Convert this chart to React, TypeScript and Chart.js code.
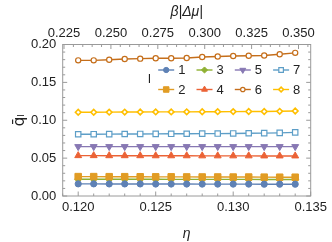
import React, { useEffect, useRef } from 'react';
import { Chart, registerables } from 'chart.js';
import { drawPoint } from 'chart.js/helpers';

Chart.register(...registerables);

const etaValues = [0.120, 0.121, 0.122, 0.123, 0.124, 0.125, 0.126, 0.127, 0.128, 0.129, 0.130, 0.131, 0.132, 0.133, 0.134];

const series1 = [0.0160, 0.0160, 0.0159, 0.0159, 0.0159, 0.0158, 0.0158, 0.0158, 0.0157, 0.0157, 0.0157, 0.0157, 0.0156, 0.0156, 0.0156];
const series2 = [0.0256, 0.0256, 0.0255, 0.0255, 0.0254, 0.0253, 0.0253, 0.0252, 0.0251, 0.0251, 0.0250, 0.0250, 0.0249, 0.0248, 0.0248];
const series3 = [0.0222, 0.0222, 0.0222, 0.0221, 0.0221, 0.0221, 0.0220, 0.0220, 0.0220, 0.0219, 0.0219, 0.0219, 0.0218, 0.0218, 0.0218];
const series4 = [0.0533, 0.0533, 0.0532, 0.0532, 0.0532, 0.0531, 0.0531, 0.0531, 0.0530, 0.0530, 0.0530, 0.0530, 0.0529, 0.0529, 0.0529];
const series5 = [0.0652, 0.0652, 0.0652, 0.0652, 0.0652, 0.0652, 0.0652, 0.0652, 0.0652, 0.0652, 0.0652, 0.0652, 0.0652, 0.0652, 0.0652];
const series6 = [0.1791, 0.1791, 0.1799, 0.1809, 0.1813, 0.1818, 0.1819, 0.1822, 0.1835, 0.1842, 0.1848, 0.1851, 0.1855, 0.1872, 0.1890];
const series7 = [0.0815, 0.0816, 0.0817, 0.0818, 0.0819, 0.0820, 0.0821, 0.0822, 0.0823, 0.0824, 0.0826, 0.0828, 0.0830, 0.0833, 0.0840];
const series8 = [0.1105, 0.1106, 0.1107, 0.1108, 0.1109, 0.1110, 0.1110, 0.1111, 0.1112, 0.1113, 0.1114, 0.1115, 0.1116, 0.1118, 0.1122];

const seriesLabels = ['1', '2', '3', '4', '5', '6', '7', '8'];
const seriesColors = ['#5E81B5', '#E19C24', '#8FB032', '#EB6235', '#8778B3', '#C56E1A', '#5D9EC7', '#FFBF00'];

const xTicks = [0.120, 0.125, 0.130, 0.135];
const x2Ticks = [0.225, 0.250, 0.275, 0.300, 0.325, 0.350];
const yTicks = [0.00, 0.05, 0.10, 0.15, 0.20];

const legendTitle = 'l';
const xTitle = 'η';
const x2Title = 'β|Δμ|';
const yTitle = 'q̄ₗ';

const allSeries = [series1, series2, series3, series4, series5, series6, series7, series8];

const markerStyles = [
  { pointStyle: 'circle', rotation: 0, radius: 3.1, open: false, bw: 1 },
  { pointStyle: 'rect', rotation: 0, radius: 4.6, open: false, bw: 1 },
  { pointStyle: 'rectRot', rotation: 0, radius: 3.6, open: false, bw: 1 },
  { pointStyle: 'triangle', rotation: 0, radius: 4, open: false, bw: 1 },
  { pointStyle: 'triangle', rotation: 180, radius: 4, open: false, bw: 1 },
  { pointStyle: 'circle', rotation: 0, radius: 2.6, open: true, bw: 1.2 },
  { pointStyle: 'rect', rotation: 0, radius: 3.8, open: true, bw: 1.2 },
  { pointStyle: 'rectRot', rotation: 0, radius: 2.8, open: true, bw: 1.6 },
];

const FONT = "'Liberation Sans', Arial, sans-serif";
const FRAME = '#9a9a9a';

function minorRange(min: number, max: number, step: number) {
  const out: number[] = [];
  const start = Math.ceil(min / step - 1e-9);
  const end = Math.floor(max / step + 1e-9);
  for (let i = start; i <= end; i++) out.push(i * step);
  return out;
}

const framePlugin = {
  id: 'frameTicks',
  afterDatasetsDraw(chart: any) {
    const { ctx, chartArea } = chart;
    const { left, right, top, bottom } = chartArea;
    const sx = chart.scales.x;
    const sx2 = chart.scales.x2;
    const sy = chart.scales.y;
    ctx.save();
    ctx.strokeStyle = FRAME;
    ctx.lineWidth = 1;
    ctx.strokeRect(left, top, right - left, bottom - top);
    const major = 4.5;
    const minor = 2.5;
    ctx.beginPath();
    minorRange(sx.min, sx.max, 0.001).forEach((v) => {
      const px = sx.getPixelForValue(v);
      const isMajor = xTicks.some((t) => Math.abs(t - v) < 1e-7);
      ctx.moveTo(px, bottom);
      ctx.lineTo(px, bottom - (isMajor ? major : minor));
    });
    minorRange(sx2.min, sx2.max, 0.005).forEach((v) => {
      const px = sx2.getPixelForValue(v);
      const isMajor = x2Ticks.some((t) => Math.abs(t - v) < 1e-7);
      ctx.moveTo(px, top);
      ctx.lineTo(px, top + (isMajor ? major : minor));
    });
    minorRange(sy.min, sy.max, 0.01).forEach((v) => {
      const py = sy.getPixelForValue(v);
      const isMajor = yTicks.some((t) => Math.abs(t - v) < 1e-7);
      const l = isMajor ? major : minor;
      ctx.moveTo(left, py);
      ctx.lineTo(left + l, py);
      ctx.moveTo(right, py);
      ctx.lineTo(right - l, py);
    });
    ctx.stroke();

    const rowY = [top + 25.5, top + 45];
    const colX = [0, 1, 2, 3].map((c) => left + 103.5 + c * 38.3);
    ctx.font = `13px ${FONT}`;
    ctx.fillStyle = '#222';
    ctx.textBaseline = 'middle';
    ctx.textAlign = 'center';
    ctx.fillText(legendTitle, left + 86.8, (rowY[0] + rowY[1]) / 2);
    for (let i = 0; i < 8; i++) {
      const col = Math.floor(i / 2);
      const row = i % 2;
      const mx = colX[col];
      const my = rowY[row];
      const color = seriesColors[i];
      const m = markerStyles[i];
      ctx.strokeStyle = color;
      ctx.lineWidth = 1.4;
      ctx.beginPath();
      ctx.moveTo(mx - 8, my);
      ctx.lineTo(mx + 8, my);
      ctx.stroke();
      ctx.fillStyle = m.open ? '#ffffff' : color;
      ctx.strokeStyle = color;
      ctx.lineWidth = m.bw;
      drawPoint(ctx, { pointStyle: m.pointStyle, rotation: m.rotation, radius: m.radius * 0.85, borderWidth: m.bw } as any, mx, my);
      ctx.fillStyle = '#222';
      ctx.textAlign = 'left';
      ctx.fillText(seriesLabels[i], mx + 12, my + 0.5);
    }
    ctx.restore();
  },
};

export default function App() {
  const ref = useRef<HTMLCanvasElement | null>(null);
  useEffect(() => {
    document.body.style.margin = '0';
    const canvas = ref.current;
    if (!canvas) return;
    const datasets = allSeries.map((values, i) => {
      const m = markerStyles[i];
      return {
        label: seriesLabels[i],
        data: etaValues.map((x, j) => ({ x, y: values[j] })),
        borderColor: seriesColors[i],
        backgroundColor: m.open ? '#ffffff' : seriesColors[i],
        pointBackgroundColor: m.open ? '#ffffff' : seriesColors[i],
        pointBorderColor: seriesColors[i],
        pointBorderWidth: m.bw,
        borderWidth: 1.4,
        pointStyle: m.pointStyle,
        pointRotation: m.rotation,
        pointRadius: m.radius,
        tension: 0,
        xAxisID: 'x',
        yAxisID: 'y',
      };
    });
    const tickFont = { family: FONT, size: 13 };
    const chart = new Chart(canvas, {
      type: 'line',
      data: { datasets: datasets as any },
      plugins: [framePlugin as any],
      options: {
        animation: false,
        responsive: false,
        devicePixelRatio: 1,
        layout: { padding: { left: 0, right: 21.3, top: 0, bottom: 0 } },
        plugins: { legend: { display: false }, tooltip: { enabled: false } },
        scales: {
          x: {
            type: 'linear',
            position: 'bottom',
            min: 0.119,
            max: 0.135,
            afterBuildTicks: (s: any) => { s.ticks = xTicks.map((v) => ({ value: v })); },
            afterFit: (s: any) => { s.height = 46; },
            grid: { display: false, drawTicks: false },
            border: { display: false },
            ticks: { font: tickFont, color: '#222', padding: 4, maxRotation: 0, autoSkip: false, callback: (v: any) => Number(v).toFixed(3) },
            title: { display: true, text: xTitle, font: { family: FONT, size: 14, style: 'italic', lineHeight: 1 }, color: '#222', padding: { top: 0, bottom: 1 } },
          },
          x2: {
            type: 'linear',
            position: 'top',
            min: 0.2243,
            max: 0.3565,
            afterBuildTicks: (s: any) => { s.ticks = x2Ticks.map((v) => ({ value: v })); },
            afterFit: (s: any) => { s.height = 44.5; },
            grid: { display: false, drawTicks: false },
            border: { display: false },
            ticks: { font: tickFont, color: '#222', padding: 3.5, maxRotation: 0, autoSkip: false, callback: (v: any) => Number(v).toFixed(3) },
            title: { display: true, text: x2Title, font: { family: FONT, size: 14, style: 'italic', lineHeight: 1 }, color: '#222', padding: { top: 5.5, bottom: 0 } },
          },
          y: {
            type: 'linear',
            position: 'left',
            min: 0,
            max: 0.2,
            afterBuildTicks: (s: any) => { s.ticks = yTicks.map((v) => ({ value: v })); },
            afterFit: (s: any) => { s.width = 62.7; },
            grid: { display: false, drawTicks: false },
            border: { display: false },
            ticks: { font: tickFont, color: '#222', padding: 6.5, autoSkip: false, callback: (v: any) => Number(v).toFixed(2) },
            title: { display: true, text: yTitle, font: { family: "'DejaVu Sans', sans-serif", size: 15, lineHeight: 1 }, color: '#222', padding: { top: 12.5, bottom: 0 } },
          },
        },
      } as any,
    });
    return () => chart.destroy();
  }, []);
  return <canvas ref={ref} width={332} height={242} style={{ display: 'block' }} />;
}
